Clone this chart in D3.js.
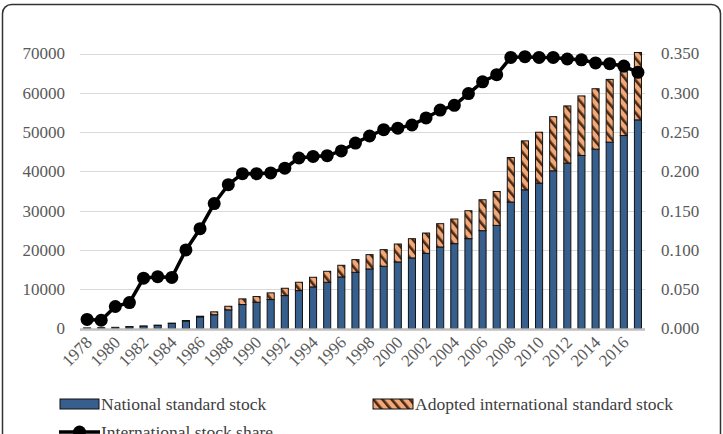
<!DOCTYPE html>

<head>
  <meta charset="utf-8">
  <title>Standard stock and international share</title>
  <style>
    body {
      margin: 0;
      background: #fff;
    }

    * {
      font-family: "Liberation Serif", "Times New Roman", serif;
    }
  </style>
</head>

<body>
  <div id="chart"></div>

  <script src="https://d3js.org/d3.v7.min.js"></script>
  <script>

    const years = [1978, 1979, 1980, 1981, 1982, 1983, 1984, 1985, 1986, 1987,
      1988, 1989, 1990, 1991, 1992, 1993, 1994, 1995, 1996, 1997,
      1998, 1999, 2000, 2001, 2002, 2003, 2004, 2005, 2006, 2007,
      2008, 2009, 2010, 2011, 2012, 2013, 2014, 2015, 2016, 2017];

    const national = [150, 200, 300, 450, 600, 800, 1300, 1900, 2950, 3500,
      4750, 6100, 6690, 7370, 8380, 9650, 10590, 11770, 13120, 14300,
      15160, 15840, 16940, 17960, 19130, 20750, 21600, 22870, 24900, 26250,
      32190, 35310, 37010, 40140, 42100, 44040, 45650, 47440, 49120, 53110];

    const adopted = [0, 0, 0, 10, 20, 30, 50, 130, 180, 740,
      910, 1440, 1440, 1700, 1860, 2120, 2450, 2790, 2970, 3230,
      3640, 4230, 4570, 4900, 5170, 5930, 6270, 7110, 7870, 8630,
      11330, 12450, 12950, 13780, 14560, 15160, 15380, 15970, 16250, 17150];

    const share = [0.0115, 0.0105, 0.028, 0.033, 0.064, 0.066, 0.065, 0.100, 0.127, 0.159,
      0.183, 0.197, 0.197, 0.198, 0.204, 0.217, 0.219, 0.220, 0.226, 0.236,
      0.245, 0.253, 0.255, 0.259, 0.268, 0.278, 0.284, 0.299, 0.314, 0.323,
      0.345, 0.346, 0.345, 0.345, 0.343, 0.342, 0.338, 0.337, 0.334, 0.326];

    const leftTicks = [0, 10000, 20000, 30000, 40000, 50000, 60000, 70000];
    const rightTicks = [0, 0.05, 0.1, 0.15, 0.2, 0.25, 0.3, 0.35];

    const seriesNames = ["National standard stock", "Adopted international standard stock", "International stock share"];

    let width = 723,
      height = 434;

    const margin = { top: 53.5, right: 78, bottom: 105, left: 80 };

    const data = years.map((y, i) => ({ year: y, national: national[i], adopted: adopted[i], share: share[i] }));

    const x = d3.scaleBand()
      .domain(years)
      .range([margin.left, width - margin.right])
      .paddingInner(0.5)
      .paddingOuter(0.25);

    const yLeft = d3.scaleLinear()
      .domain([0, 70000])
      .range([height - margin.bottom - 0.5, margin.top]);

    const yRight = d3.scaleLinear()
      .domain([0, 0.35])
      .range([height - margin.bottom - 0.5, margin.top]);

    const svg = d3.select('#chart')
      .append('svg')
      .attr("width", width)
      .attr("height", height);

    // hatch pattern for adopted part
    const defs = svg.append("defs");
    const pat = defs.append("pattern")
      .attr("id", "hatch")
      .attr("patternUnits", "userSpaceOnUse")
      .attr("width", 7)
      .attr("height", 7)
      .attr("patternTransform", "rotate(-40)");
    pat.append("rect")
      .attr("width", 7).attr("height", 7)
      .attr("fill", "#f2a878");
    pat.append("rect")
      .attr("width", 2.6).attr("height", 7)
      .attr("fill", "#4a2a14");

    // frame
    svg.append("rect")
      .attr("x", 2.5).attr("y", 4.5)
      .attr("width", width - 5).attr("height", height + 20)
      .attr("rx", 9)
      .attr("fill", "#fff")
      .attr("stroke", "#333")
      .attr("stroke-width", 1.5);

    // gridlines
    svg.append("g")
      .selectAll("line")
      .data(leftTicks.slice(1))
      .join("line")
      .attr("x1", margin.left)
      .attr("x2", width - margin.right)
      .attr("y1", d => Math.round(yLeft(d)) + 0.5)
      .attr("y2", d => Math.round(yLeft(d)) + 0.5)
      .attr("stroke", "#d9d9d9")
      .attr("stroke-width", 1.2);

    // left axis labels
    svg.append("g")
      .attr("font-size", 17)
      .attr("fill", "#595959")
      .selectAll("text")
      .data(leftTicks)
      .join("text")
      .attr("text-anchor", "end")
      .attr("x", 65)
      .attr("y", d => yLeft(d))
      .attr("dy", "0.35em")
      .text(d => d3.format("d")(d));

    // right axis labels
    svg.append("g")
      .attr("font-size", 17)
      .attr("fill", "#595959")
      .selectAll("text")
      .data(rightTicks)
      .join("text")
      .attr("text-anchor", "start")
      .attr("x", 661)
      .attr("y", d => yRight(d))
      .attr("dy", "0.35em")
      .text(d => d3.format(".3f")(d));

    // stacked bars
    const stack = d3.stack().keys(["national", "adopted"])(data);
    const fills = { national: "#375f8e", adopted: "url(#hatch)" };

    svg.append("g")
      .selectAll("g")
      .data(stack)
      .join("g")
      .attr("fill", d => fills[d.key])
      .selectAll("rect")
      .data(d => d.filter(s => s[1] - s[0] > 0))
      .join("rect")
      .attr("x", d => x(d.data.year))
      .attr("y", d => yLeft(d[1]))
      .attr("width", x.bandwidth())
      .attr("height", d => yLeft(d[0]) - yLeft(d[1]))
      .attr("stroke", "#111")
      .attr("stroke-width", 1);

    // baseline
    svg.append("line")
      .attr("x1", margin.left)
      .attr("x2", width - margin.right)
      .attr("y1", yLeft(0) + 1)
      .attr("y2", yLeft(0) + 1)
      .attr("stroke", "#bfbfbf")
      .attr("stroke-width", 2.5);

    // x labels, every other year
    svg.append("g")
      .attr("font-size", 17)
      .attr("fill", "#595959")
      .selectAll("text")
      .data(years.filter((d, i) => i % 2 === 0))
      .join("text")
      .style("text-anchor", "end")
      .attr("transform", d => `translate(${x(d) + x.bandwidth() / 2 + 6},${yLeft(0) + 15}) rotate(-45)`)
      .text(d => d);

    // share line
    const line = d3.line()
      .x(d => x(d.year) + x.bandwidth() / 2)
      .y(d => yRight(d.share));

    svg.append("path")
      .datum(data)
      .attr("fill", "none")
      .attr("stroke", "#000")
      .attr("stroke-width", 3.5)
      .attr("stroke-linejoin", "round")
      .attr("d", line);

    svg.append("g")
      .selectAll("circle")
      .data(data)
      .join("circle")
      .attr("cx", d => x(d.year) + x.bandwidth() / 2)
      .attr("cy", d => yRight(d.share))
      .attr("r", 6.5)
      .attr("fill", "#000");

    // legend
    const legend = svg.append("g")
      .attr("font-size", 17.5)
      .attr("fill", "#404040");

    legend.append("rect")
      .attr("x", 60).attr("y", 399).attr("width", 39).attr("height", 10)
      .attr("fill", fills.national).attr("stroke", "#111");
    legend.append("text")
      .attr("x", 101).attr("y", 404).attr("dy", "0.35em")
      .text(seriesNames[0]);

    legend.append("rect")
      .attr("x", 373).attr("y", 399).attr("width", 40).attr("height", 10)
      .attr("fill", fills.adopted).attr("stroke", "#111");
    legend.append("text")
      .attr("x", 415).attr("y", 404).attr("dy", "0.35em")
      .text(seriesNames[1]);

    legend.append("line")
      .attr("x1", 59).attr("x2", 100).attr("y1", 432).attr("y2", 432)
      .attr("stroke", "#000").attr("stroke-width", 3.5);
    legend.append("circle")
      .attr("cx", 79.5).attr("cy", 432).attr("r", 6.5).attr("fill", "#000");
    legend.append("text")
      .attr("x", 101).attr("y", 432).attr("dy", "0.35em")
      .text(seriesNames[2]);

  </script>
</body>

</html>
